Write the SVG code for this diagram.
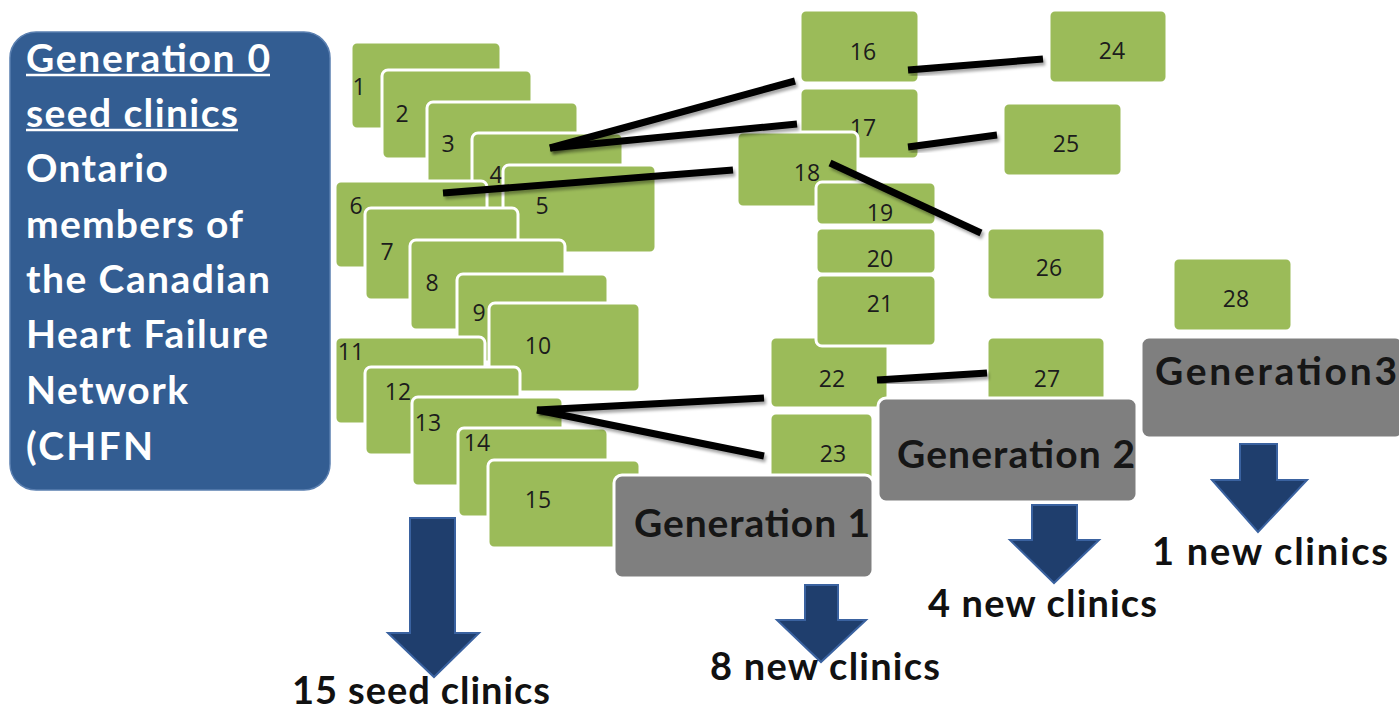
<svg xmlns="http://www.w3.org/2000/svg" width="1399" height="713" viewBox="0 0 1399 713">
<defs>
<filter id="sh" x="-10%" y="-50%" width="120%" height="200%">
<feDropShadow dx="2" dy="3" stdDeviation="1.5" flood-color="#000" flood-opacity="0.35"/>
</filter>
</defs>
<style>
.g{fill:#9BBB59;stroke:#fff;stroke-width:3}
.n{font-family:"Open Sans","Noto Sans",sans-serif;font-size:23px;fill:#1c1c1c;text-anchor:middle;dominant-baseline:central}
.w{font-family:Lato,"Liberation Sans",sans-serif;font-weight:700;font-size:39px;fill:#fff}
.gen{fill:#7F7F7F;stroke:#fff;stroke-width:3}
.gt{font-family:Lato,"Liberation Sans",sans-serif;font-weight:700;font-size:39px;fill:#161616}
.bt{font-family:Lato,"Liberation Sans",sans-serif;font-weight:700;font-size:38px;fill:#111}
.ar{fill:#1F3E6D;stroke:#3A62A0;stroke-width:2}
.c{stroke:#000;stroke-width:7;fill:none;filter:url(#sh)}
</style>
<rect width="1399" height="713" fill="#fff"/>

<g id="gen0">
<rect x="10" y="32" width="320" height="458" rx="26" fill="#335D92" stroke="#5A7FB0" stroke-width="1.5"/>
<text class="w" x="26" y="72" textLength="244">Generation 0</text>
<line x1="26" y1="75" x2="270" y2="75" stroke="#fff" stroke-width="2.5"/>
<text class="w" x="26" y="127" textLength="212">seed clinics</text>
<line x1="26" y1="130" x2="238" y2="130" stroke="#fff" stroke-width="2.5"/>
<text class="w" x="26" y="182" textLength="142">Ontario</text>
<text class="w" x="26" y="238" textLength="217">members of</text>
<text class="w" x="26" y="293" textLength="244">the Canadian</text>
<text class="w" x="26" y="348" textLength="242">Heart Failure</text>
<text class="w" x="26" y="404" textLength="162">Network</text>
<text class="w" x="26" y="460" textLength="127">(CHFN</text>
</g>

<g id="n1"><rect class="g" x="351" y="42" width="150" height="87" rx="6"/><text class="n" x="359" y="86" font-size="27">1</text></g>
<g id="n2"><rect class="g" x="382" y="70" width="150" height="89" rx="6"/><text class="n" x="402" y="113">2</text></g>
<g id="n3"><rect class="g" x="427" y="102" width="151" height="88" rx="6"/><text class="n" x="448" y="143">3</text></g>
<g id="n4"><rect class="g" x="472" y="133" width="151" height="89" rx="6"/><text class="n" x="496" y="174">4</text></g>
<g id="n5"><rect class="g" x="503" y="165" width="153" height="88" rx="6"/><text class="n" x="542" y="205">5</text></g>
<g id="n6"><rect class="g" x="335" y="181" width="152" height="87" rx="6"/><text class="n" x="356" y="205">6</text></g>
<g id="n7"><rect class="g" x="365" y="208" width="153" height="92" rx="6"/><text class="n" x="387" y="251">7</text></g>
<g id="n8"><rect class="g" x="410" y="240" width="155" height="90" rx="6"/><text class="n" x="432" y="282">8</text></g>
<g id="n9"><rect class="g" x="457" y="274" width="151" height="88" rx="6"/><text class="n" x="479" y="312">9</text></g>
<g id="n10"><rect class="g" x="489" y="303" width="151" height="89" rx="6"/><text class="n" x="538" y="345">10</text></g>
<g id="n11"><rect class="g" x="335" y="337" width="150" height="87" rx="6"/><text class="n" x="351" y="351">11</text></g>
<g id="n12"><rect class="g" x="365" y="367" width="155" height="88" rx="6"/><text class="n" x="398" y="391">12</text></g>
<g id="n13"><rect class="g" x="412" y="397" width="151" height="89" rx="6"/><text class="n" x="428" y="422">13</text></g>
<g id="n14"><rect class="g" x="458" y="428" width="150" height="89" rx="6"/><text class="n" x="477" y="442">14</text></g>
<g id="n15"><rect class="g" x="488" y="460" width="152" height="88" rx="6"/><text class="n" x="538" y="499">15</text></g>

<g id="n16"><rect class="g" x="800" y="10" width="119" height="73" rx="6"/><text class="n" x="863" y="51">16</text></g>
<g id="n17"><rect class="g" x="800" y="88" width="119" height="71" rx="6"/><text class="n" x="863" y="127">17</text></g>
<g id="n18"><rect class="g" x="737" y="132" width="121" height="75" rx="6"/><text class="n" x="807" y="172">18</text></g>
<g id="n19"><rect class="g" x="816" y="182" width="120" height="43" rx="6"/><text class="n" x="880" y="212">19</text></g>
<g id="n20"><rect class="g" x="816" y="228" width="120" height="46" rx="6"/><text class="n" x="880" y="258">20</text></g>
<g id="n22"><rect class="g" x="770" y="337" width="118" height="71" rx="6"/><text class="n" x="832" y="378">22</text></g>
<g id="n21"><rect class="g" x="816" y="275" width="120" height="71" rx="6"/><text class="n" x="880" y="303">21</text></g>
<g id="n23"><rect class="g" x="770" y="413" width="103" height="70" rx="6"/><text class="n" x="833" y="453">23</text></g>

<g id="n24"><rect class="g" x="1049" y="10" width="118" height="73" rx="6"/><text class="n" x="1112" y="50">24</text></g>
<g id="n25"><rect class="g" x="1003" y="103" width="119" height="73" rx="6"/><text class="n" x="1066" y="143">25</text></g>
<g id="n26"><rect class="g" x="987" y="228" width="118" height="72" rx="6"/><text class="n" x="1049" y="267">26</text></g>
<g id="n27"><rect class="g" x="987" y="337" width="118" height="66" rx="6"/><text class="n" x="1047" y="378">27</text></g>
<g id="n28"><rect class="g" x="1173" y="258" width="119" height="73" rx="6"/><text class="n" x="1236" y="298">28</text></g>

<g id="connectors">
<line class="c" x1="550" y1="148" x2="795" y2="81"/>
<line class="c" x1="550" y1="148" x2="797" y2="124"/>
<line class="c" x1="443" y1="193" x2="733" y2="170"/>
<line class="c" x1="473" y1="225" x2="829" y2="225"/>
<line class="c" x1="830" y1="163" x2="981" y2="233"/>
<line class="c" x1="908" y1="70" x2="1043" y2="59"/>
<line class="c" x1="908" y1="147" x2="997" y2="135"/>
<line class="c" x1="1094" y1="287" x2="1168" y2="287"/>
<line class="c" x1="537" y1="410" x2="764" y2="398"/>
<line class="c" x1="537" y1="410" x2="764" y2="456"/>
<line class="c" x1="877" y1="380" x2="987" y2="373"/>
</g>

<g id="gen1">
<rect class="gen" x="614" y="475" width="259" height="103" rx="8"/>
<text class="gt" x="634" y="537" textLength="236">Generation 1</text>
</g>
<g id="gen2">
<rect class="gen" x="878" y="398" width="259" height="104" rx="8"/>
<text class="gt" x="897" y="468" textLength="238">Generation 2</text>
</g>
<g id="gen3">
<rect class="gen" x="1141" y="337" width="262" height="101" rx="8"/>
<text class="gt" x="1155" y="385" textLength="242">Generation3</text>
</g>

<g id="arrow0">
<polygon class="ar" points="410,518 455,518 455,633 479,633 434,677 388,633 410,633"/>
<text class="bt" x="292" y="704" font-size="37" textLength="258">15 seed clinics</text>
</g>
<g id="arrow1">
<polygon class="ar" points="805,585 838,585 838,620 866,620 821,662 777,620 805,620"/>
<text class="bt" x="710" y="680" textLength="230">8 new clinics</text>
</g>
<g id="arrow2">
<polygon class="ar" points="1032,505 1077,505 1077,540 1099,540 1054,583 1010,540 1032,540"/>
<text class="bt" x="928" y="617" textLength="229">4 new clinics</text>
</g>
<g id="arrow3">
<polygon class="ar" points="1240,444 1277,444 1277,480 1307,480 1258,532 1212,480 1240,480"/>
<text class="bt" x="1152" y="565" textLength="236">1 new clinics</text>
</g>
</svg>
